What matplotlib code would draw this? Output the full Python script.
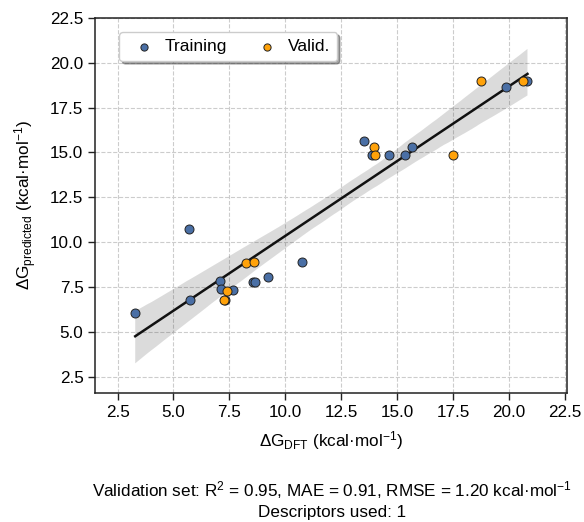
import matplotlib

matplotlib.use("Agg")
import matplotlib.pyplot as plt
import numpy as np
import pandas as pd
import seaborn as sns

# Training / validation predictions (kcal/mol)
train_dft = [3.29, 5.68, 5.76, 7.07, 7.13, 7.66, 7.30, 8.54, 8.66, 9.21, 10.76,
             13.51, 13.87, 14.64, 15.36, 15.67, 19.85, 20.83]
train_pred = [6.05, 10.73, 6.79, 7.86, 7.38, 7.35, 6.80, 7.79, 7.81, 8.05, 8.92,
              15.66, 14.85, 14.85, 14.85, 15.31, 18.67, 18.95]
valid_dft = [7.40, 7.25, 8.26, 8.59, 13.95, 14.00, 17.49, 18.76, 20.64]
valid_pred = [7.31, 6.79, 8.83, 8.91, 15.29, 14.85, 14.85, 18.95, 18.95]

ticks = [2.5, 5.0, 7.5, 10.0, 12.5, 15.0, 17.5, 20.0, 22.5]

plt.rcParams["font.family"] = ["Liberation Sans", "DejaVu Sans"]
plt.rcParams["mathtext.fontset"] = "custom"
plt.rcParams["mathtext.rm"] = "Liberation Sans"
plt.rcParams["mathtext.it"] = "Liberation Sans:italic"
FS = 12.3

# fit drawn through the training set
df = pd.DataFrame({"dft": train_dft, "pred": train_pred})

fig = plt.figure(figsize=(5.84, 5.22), dpi=100)
ax = fig.add_axes([0.163, 0.247, 0.808, 0.719])

ax.grid(True, linestyle="--", color="#cccccc", linewidth=0.8, zorder=0)
ax.set_axisbelow(True)

sns.regplot(data=df, x="dft", y="pred", scatter=False, ax=ax, seed=0,
            line_kws={"color": "#111111", "lw": 1.8}, ci=95)

ax.scatter(train_dft, train_pred, s=42, color="#4a6fa5", edgecolor="#222222",
           linewidth=0.7, label="Training", zorder=3)
ax.scatter(valid_dft, valid_pred, s=42, color="#ffa20a", edgecolor="#222222",
           linewidth=0.7, label="Valid.", zorder=4)

ax.set_xlim(1.5, 22.6)
ax.set_ylim(1.6, 22.5)
ax.set_xticks(ticks)
ax.set_yticks(ticks)
ax.tick_params(labelsize=FS)
ax.set_xlabel(r"$\Delta$G$_{\rm DFT}$ (kcal·mol$^{-1}$)", fontsize=FS, labelpad=7)
ax.set_ylabel(r"$\Delta$G$_{\rm predicted}$ (kcal·mol$^{-1}$)", fontsize=FS, labelpad=8)
for s in ax.spines.values():
    s.set_color("#222222")
    s.set_linewidth(1.1)
ax.tick_params(direction="out", length=5, width=1, color="#222222")

ax.legend(loc="upper left", ncol=2, frameon=True, fancybox=True, shadow=True,
          bbox_to_anchor=(0.033, 0.985), fontsize=12.5, handletextpad=0.2,
          columnspacing=1.3, borderpad=0.4, markerscale=0.8)

fig.text(0.568, 0.062, r"Validation set: R$^2$ = 0.95, MAE = 0.91, RMSE = 1.20 kcal·mol$^{-1}$",
         ha="center", va="center", fontsize=FS)
fig.text(0.568, 0.019, "Descriptors used: 1", ha="center", va="center", fontsize=FS)

fig.savefig("out.png", dpi=100)
